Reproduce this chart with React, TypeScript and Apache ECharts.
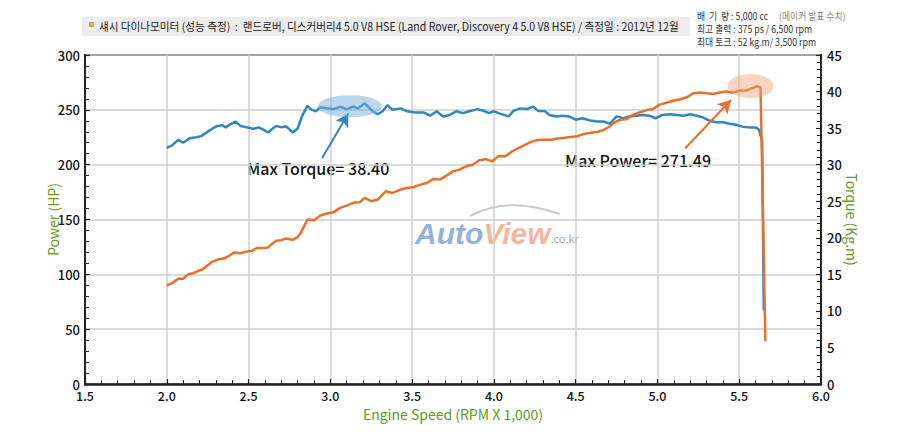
import React, { useEffect, useRef } from "react";
import * as echarts from "echarts";

// engine speed (x1000 rpm) and power (HP)
const rpmPower = [
  2.0, 2.03, 2.07, 2.1, 2.13, 2.16, 2.19, 2.22, 2.25, 2.28, 2.32, 2.35, 2.38, 2.41, 2.45, 2.48,
  2.52, 2.55, 2.59, 2.62, 2.64, 2.67, 2.7, 2.73, 2.77, 2.8, 2.82, 2.84, 2.86, 2.9, 2.94, 2.98,
  3.02, 3.06, 3.1, 3.14, 3.18, 3.21, 3.25, 3.29, 3.34, 3.38, 3.43, 3.47, 3.51, 3.55, 3.59, 3.63,
  3.67, 3.71, 3.75, 3.79, 3.83, 3.87, 3.91, 3.95, 3.99, 4.03, 4.07, 4.11, 4.15, 4.19, 4.23, 4.27,
  4.31, 4.35, 4.39, 4.43, 4.47, 4.51, 4.55, 4.59, 4.63, 4.67, 4.71, 4.73, 4.77, 4.81, 4.85, 4.89,
  4.94, 4.97, 5.01, 5.06, 5.1, 5.14, 5.18, 5.22, 5.26, 5.3, 5.34, 5.38, 5.42, 5.46, 5.5, 5.54,
  5.58, 5.61, 5.63, 5.645, 5.66,
];
const powerHp = [
  89.9, 91.7, 96, 96, 100, 101, 103, 104.6, 108.3, 111.6, 113.8, 114.4, 116.8, 119.9, 119.3, 120.5,
  121.4, 123.9, 123.9, 124.5, 127.5, 130.6, 131.2, 132.7, 131.5, 134, 138, 144, 150, 149.4, 153.6, 155.5,
  156.7, 160.6, 162.7, 165.2, 165.8, 169.7, 166.7, 168.2, 175.8, 174.2, 177.3, 178.8, 179.7, 181.8, 183.3, 187,
  186.4, 190, 193.9, 195.5, 198.5, 200, 204, 205, 203, 208, 207.6, 212, 215, 218, 221, 222.5,
  222.8, 222.7, 223.8, 224.5, 225.3, 226, 228, 229, 229.8, 231.5, 235, 237.9, 240.9, 241.5, 245.5, 247.6,
  250, 250.6, 254.5, 256.7, 258.5, 259.7, 261.5, 265.2, 265.8, 265.2, 264.5, 265.8, 266.7, 265.8, 267.3, 267.6,
  269.7, 271.5, 270.6, 160, 39,
];

// engine speed (x1000 rpm) and torque (kg.m)
const rpmTorque = [
  2.0, 2.03, 2.07, 2.1, 2.14, 2.18, 2.21, 2.24, 2.28, 2.31, 2.34, 2.36, 2.39, 2.42, 2.45, 2.49,
  2.53, 2.56, 2.59, 2.62, 2.65, 2.67, 2.7, 2.73, 2.77, 2.8, 2.83, 2.86, 2.88, 2.91, 2.94, 2.98,
  3.02, 3.06, 3.1, 3.14, 3.17, 3.21, 3.26, 3.29, 3.32, 3.35, 3.38, 3.43, 3.47, 3.52, 3.57, 3.61,
  3.65, 3.69, 3.73, 3.77, 3.81, 3.85, 3.9, 3.94, 3.97, 4.0, 4.04, 4.09, 4.12, 4.16, 4.2, 4.24,
  4.27, 4.31, 4.34, 4.38, 4.42, 4.46, 4.5, 4.54, 4.59, 4.63, 4.67, 4.71, 4.75, 4.79, 4.83, 4.87,
  4.91, 4.95, 4.99, 5.03, 5.08, 5.12, 5.16, 5.2, 5.24, 5.28, 5.32, 5.36, 5.4, 5.44, 5.48, 5.52,
  5.56, 5.6, 5.62, 5.64, 5.65,
];
const torqueKgm = [
  32.3, 32.6, 33.4, 33.0, 33.6, 33.75, 33.9, 34.35, 34.95, 35.3, 35.4, 35.1, 35.55, 35.9, 35.3, 35.1,
  34.9, 35.1, 34.8, 34.4, 35.0, 35.3, 35.1, 35.25, 34.4, 34.95, 36.8, 38.05, 37.6, 37.3, 37.85, 37.7,
  37.6, 37.95, 37.6, 37.95, 37.7, 38.4, 37.3, 36.9, 37.3, 38.15, 37.5, 37.7, 37.3, 37.15, 37.15, 36.7,
  37.3, 36.6, 36.8, 37.3, 37.05, 37.3, 37.6, 37.35, 37.05, 37.3, 36.95, 36.6, 37.35, 37.7, 37.6, 37.95,
  37.35, 37.35, 36.8, 36.6, 36.7, 36.6, 36.15, 36.35, 36.05, 35.9, 35.9, 35.6, 36.6, 36.35, 36.6, 36.7,
  36.8, 36.7, 36.35, 36.8, 36.9, 36.8, 36.7, 36.9, 36.7, 36.45, 36.0, 35.8, 35.8, 35.6, 35.45, 35.2,
  35.1, 35.1, 34.8, 33.3, 10.1,
];

// annotation anchors in data units
const torqueHalo = [3.12, 38.0];
const torqueArrow = [[2.95, 30.9], [3.11, 37.0]];
const powerHalo = [5.57, 271.7];
const powerArrow = [[5.17, 215], [5.45, 259]];

const title =
  "섀시 다이나모미터 (성능 측정)  :  랜드로버, 디스커버리4 5.0 V8 HSE (Land Rover, Discovery 4 5.0 V8 HSE) / 측정일 : 2012년 12월";
const specs = [
  "배  기  량 : 5,000 cc",
  "최고 출력 : 375 ps / 6,500 rpm",
  "최대 토크 : 52 kg.m/ 3,500 rpm",
];

const FONT = "'Noto Sans CJK KR', 'Liberation Sans', sans-serif";
const GREEN = "#66982a";
const BLUE = "#2f87c2";
const ORANGE = "#e8702a";

const App = () => {
  const chartRef = useRef<HTMLDivElement>(null);

  useEffect(() => {
    if (!chartRef.current) return;
    const chart = echarts.init(chartRef.current, null, { renderer: "svg" });

    const axisLine = { show: true, lineStyle: { color: "#222", width: 2 } };
    const tick = { show: true, inside: true, length: 5, lineStyle: { color: "#222", width: 1.2 } };
    const minor = { show: true, splitNumber: 5, length: 4, lineStyle: { color: "#222", width: 1 } };
    const label = { color: "#111", fontSize: 13, fontFamily: FONT, fontWeight: 500 };
    const nameStyle = { color: GREEN, fontSize: 14, fontFamily: FONT };

    chart.setOption({
      animation: false,
      textStyle: { fontFamily: FONT },
      grid: { left: 85, right: 79, top: 55, bottom: 52, show: true, borderColor: "#222", borderWidth: 2 },
      xAxis: {
        type: "value",
        min: 1.5,
        max: 6,
        interval: 0.5,
        name: "Engine Speed (RPM X 1,000)",
        nameLocation: "middle",
        nameGap: 23,
        nameMoveOverlap: false,
        nameTextStyle: nameStyle,
        axisLine: { ...axisLine, lineStyle: { color: "#222", width: 2.5 } },
        axisTick: tick,
        minorTick: minor,
        axisLabel: { ...label, fontSize: 12.5, margin: 5, formatter: (v: number) => v.toFixed(1) },
        splitLine: { show: true, lineStyle: { color: "#cfcfcf", width: 1.5 } },
      },
      yAxis: [
        {
          type: "value",
          min: 0,
          max: 300,
          interval: 50,
          name: "Power (HP)",
          nameLocation: "middle",
          nameGap: 25,
          nameMoveOverlap: false,
          nameTextStyle: nameStyle,
          axisLine,
          axisTick: tick,
          minorTick: minor,
          axisLabel: { ...label, margin: 5 },
          splitLine: { show: true, lineStyle: { color: "#cfcfcf", width: 1.5 } },
        },
        {
          type: "value",
          min: 0,
          max: 45,
          interval: 5,
          position: "right",
          name: "Torque (Kg.m)",
          nameLocation: "middle",
          nameRotate: -90,
          nameGap: 24,
          nameMoveOverlap: false,
          nameTextStyle: nameStyle,
          axisLine,
          axisTick: tick,
          minorTick: minor,
          axisLabel: { ...label, margin: 6 },
          splitLine: { show: false },
        },
      ],
      series: [
        {
          name: "Torque",
          type: "line",
          yAxisIndex: 1,
          showSymbol: false,
          data: rpmTorque.map((r, i) => [r, torqueKgm[i]]),
          lineStyle: { color: BLUE, width: 2.5 },
          itemStyle: { color: BLUE },
          markPoint: {
            symbol: "circle",
            symbolSize: [64, 22],
            label: { show: false },
            itemStyle: { color: "rgba(120,175,220,0.5)" },
            data: [{ coord: torqueHalo }],
          },
          markLine: {
            silent: true,
            symbol: ["none", "arrow"],
            symbolSize: [11, 13],
            label: { show: false },
            lineStyle: { color: BLUE, width: 2, type: "solid" },
            data: [[{ coord: torqueArrow[0] }, { coord: torqueArrow[1] }]],
          },
        },
        {
          name: "Power",
          type: "line",
          showSymbol: false,
          data: rpmPower.map((r, i) => [r, powerHp[i]]),
          lineStyle: { color: ORANGE, width: 2.5 },
          itemStyle: { color: ORANGE },
          markPoint: {
            symbol: "circle",
            symbolSize: [46, 24],
            label: { show: false },
            itemStyle: { color: "rgba(240,160,120,0.45)" },
            data: [{ coord: powerHalo }],
          },
          markLine: {
            silent: true,
            symbol: ["none", "arrow"],
            symbolSize: [11, 13],
            label: { show: false },
            lineStyle: { color: ORANGE, width: 2, type: "solid" },
            data: [[{ coord: powerArrow[0] }, { coord: powerArrow[1] }]],
          },
        },
      ],
      graphic: [
        { type: "rect", shape: { x: 82, y: 17, width: 608, height: 19 }, style: { fill: "#ececec" } },
        { type: "rect", shape: { x: 89, y: 22, width: 5, height: 5 }, style: { fill: "#f0a030" } },
        {
          type: "text",
          x: 99,
          y: 26,
          scaleX: 0.93,
          style: { text: title, fontSize: 11.4, fontFamily: FONT, fill: "#222", verticalAlign: "middle" },
        },
        ...specs.map((s, i) => ({
          type: "text",
          x: 697,
          y: 16 + i * 13,
          scaleX: 0.88,
          style: { text: s, fontSize: 10, fontFamily: FONT, fill: "#333", verticalAlign: "middle" },
        })),
        {
          type: "text",
          x: 779,
          y: 16,
          scaleX: 0.88,
          style: { text: "(메이커 발표 수치)", fontSize: 10, fontFamily: FONT, fill: "#888", verticalAlign: "middle" },
        },
        {
          type: "text",
          x: 247,
          y: 168,
          style: { text: "Max Torque= 38.40", fontSize: 16, fontWeight: 500, fontFamily: FONT, fill: "#111", verticalAlign: "middle" },
        },
        {
          type: "text",
          x: 565,
          y: 160,
          style: { text: "Max Power= 271.49", fontSize: 16, fontWeight: 500, fontFamily: FONT, fill: "#111", verticalAlign: "middle" },
        },
        {
          type: "bezierCurve",
          shape: { x1: 470, y1: 216, x2: 560, y2: 214, cpx1: 500, cpy1: 200, cpx2: 530, cpy2: 204 },
          style: { stroke: "rgba(150,150,150,0.5)", lineWidth: 2, fill: "none" },
        },
        {
          type: "text",
          x: 415,
          y: 233,
          style: {
            text: "{a|Auto}{b|View}{c|.co.kr}",
            verticalAlign: "middle",
            rich: {
              a: { fontSize: 30, fontWeight: "bold", fontStyle: "italic", fill: "rgba(110,150,215,0.75)", fontFamily: "'Liberation Sans', sans-serif" },
              b: { fontSize: 30, fontWeight: "bold", fontStyle: "italic", fill: "rgba(240,150,110,0.7)", fontFamily: "'Liberation Sans', sans-serif" },
              c: { fontSize: 11, fill: "rgba(140,140,140,0.8)", fontFamily: FONT, padding: [10, 0, 0, 0] },
            },
          },
        },
      ],
    });

    return () => {
      chart.dispose();
    };
  }, []);

  return <div ref={chartRef} style={{ position: "absolute", left: 0, top: 0, width: 900, height: 436 }} />;
};

export default App;
